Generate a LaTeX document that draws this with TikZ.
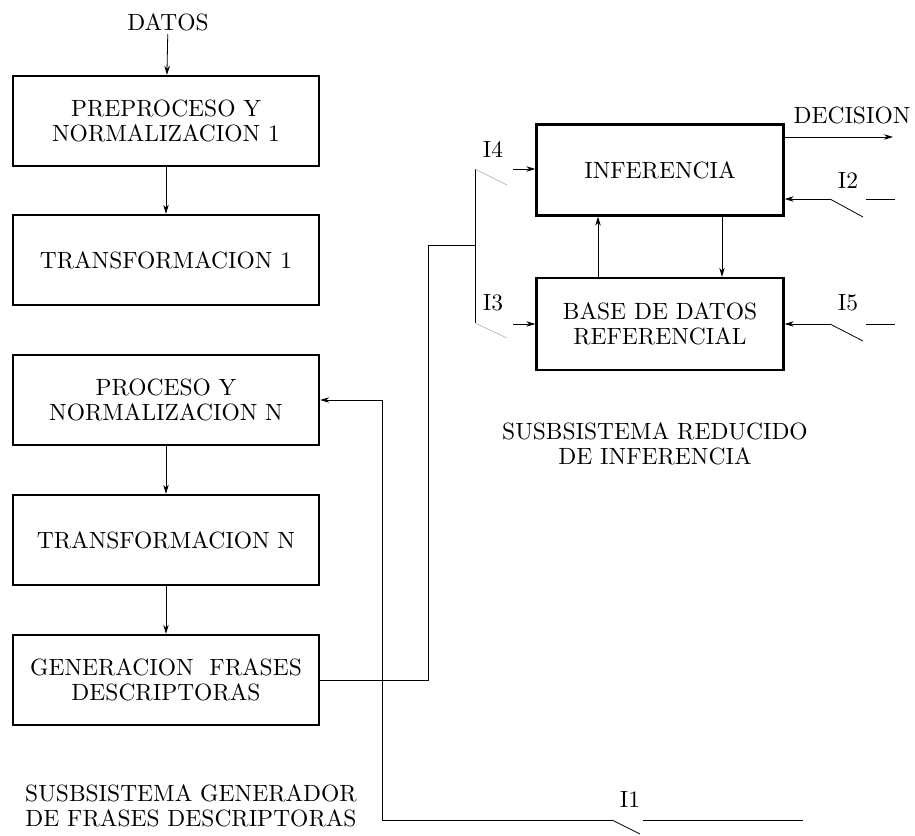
\documentclass[tikz,border=0pt]{standalone}
\usepackage{fontspec}
\setmainfont{lmroman10-regular.otf}
\usepackage{tikz}
\usetikzlibrary{arrows.meta}
\tikzset{%
    bloque/.style={%
        draw, line width=2.4pt, minimum width=306pt, minimum height=90pt,
        align=center, inner sep=0pt
    },
    rotulo/.style={font=\fontsize{23.5}{25}\selectfont, align=center},
    flecha/.style={-{Stealth[length=9pt,width=5.5pt]}, line width=0.8pt},
    linea/.style={line width=0.8pt},
    tenue/.style={line width=0.5pt, black!35}
}

\begin{document}
\begin{tikzpicture}[x=1pt,y=-1pt]
    \useasboundingbox (0,0) rectangle (915,835);
%-----------------------------------------------
    \node[rotulo] (datos) at (168,22) {DATOS};
    \node[bloque,rotulo] (prep) at (166,121) {PREPROCESO Y\\NORMALIZACION 1};
    \node[bloque,rotulo] (trans1) at (166,260) {TRANSFORMACION 1};
    \node[bloque,rotulo] (proc) at (166,400) {PROCESO Y\\NORMALIZACION N};
    \node[bloque,rotulo] (transn) at (166,540) {TRANSFORMACION N};
    \node[bloque,rotulo] (gen) at (166,680) {GENERACION\ \ FRASES\\DESCRIPTORAS};
    \node[rotulo] (subgen) at (191,806) {SUSBSISTEMA GENERADOR\\DE FRASES DESCRIPTORAS};
%-----------------------------------------------
    \node[bloque,rotulo,minimum width=247pt,minimum height=91pt] (inf) at (660,170) {INFERENCIA};
    \node[bloque,rotulo,minimum width=247pt,minimum height=92pt] (base) at (660,324) {BASE DE DATOS\\REFERENCIAL};
    \node[rotulo] (subinf) at (655,444) {SUSBSISTEMA REDUCIDO\\DE INFERENCIA};
    \node[rotulo] (decision) at (852,115) {DECISION};
    \node[rotulo] (ii4) at (493,149) {I4};
    \node[rotulo] (ii3) at (493,303) {I3};
    \node[rotulo] (ii2) at (848,180) {I2};
    \node[rotulo] (ii5) at (848,303) {I5};
    \node[rotulo] (ii1) at (630,799) {I1};
%-----------------------------------------------
    \coordinate (dec) at (893,137);
    \coordinate (xa) at (598,0);
    \coordinate (xb) at (722,0);
    \coordinate (i4a) at (475,169);
    \coordinate (i4b) at (507,185);
    \coordinate (i4c) at (513,169);
    \coordinate (i3a) at (475,323);
    \coordinate (i3b) at (507,338);
    \coordinate (i3c) at (513,324);
    \coordinate (nodo) at (475,245);
    \coordinate (sube) at (428,245);
    \coordinate (i2a) at (830,199);
    \coordinate (i2b) at (863,217);
    \coordinate (i2c) at (866,199);
    \coordinate (i2d) at (895,199);
    \coordinate (i5a) at (830,324);
    \coordinate (i5b) at (863,341);
    \coordinate (i5c) at (866,324);
    \coordinate (i5d) at (895,324);
    \coordinate (i1a) at (612,820);
    \coordinate (i1b) at (640,834);
    \coordinate (i1c) at (643,820);
    \coordinate (i1d) at (803,820);
    \coordinate (ret) at (382,400);
%-----------------------------------------------
    \draw[flecha] (datos) -- (prep);
    \draw[flecha] (prep) -- (trans1);
    \draw[flecha] (proc) -- (transn);
    \draw[flecha] (transn) -- (gen);
%-----------------------------------------------
    \draw[flecha] (inf.east |- dec) -- (dec);
    \draw[flecha] (base.north -| xa) -- (inf.south -| xa);
    \draw[flecha] (inf.south -| xb) -- (base.north -| xb);
    \draw[flecha] (i4c) -- (inf.west |- i4c);
    \draw[flecha] (i3c) -- (base.west |- i3c);
    \draw[linea] (i4a) -- (i3a);
    \draw[tenue] (i4a) -- (i4b);
    \draw[tenue] (i3a) -- (i3b);
    \draw[linea] (gen.east) -| (sube) -- (nodo);
%-----------------------------------------------
    \draw[flecha] (i2a) -- (inf.east |- i2a);
    \draw[linea] (i2a) -- (i2b);
    \draw[linea] (i2c) -- (i2d);
    \draw[flecha] (i5a) -- (base.east |- i5a);
    \draw[linea] (i5a) -- (i5b);
    \draw[linea] (i5c) -- (i5d);
%-----------------------------------------------
    \draw[flecha] (i1a) -| (ret) -- (proc.east);
    \draw[linea] (i1a) -- (i1b);
    \draw[linea] (i1c) -- (i1d);
\end{tikzpicture}
\end{document}
